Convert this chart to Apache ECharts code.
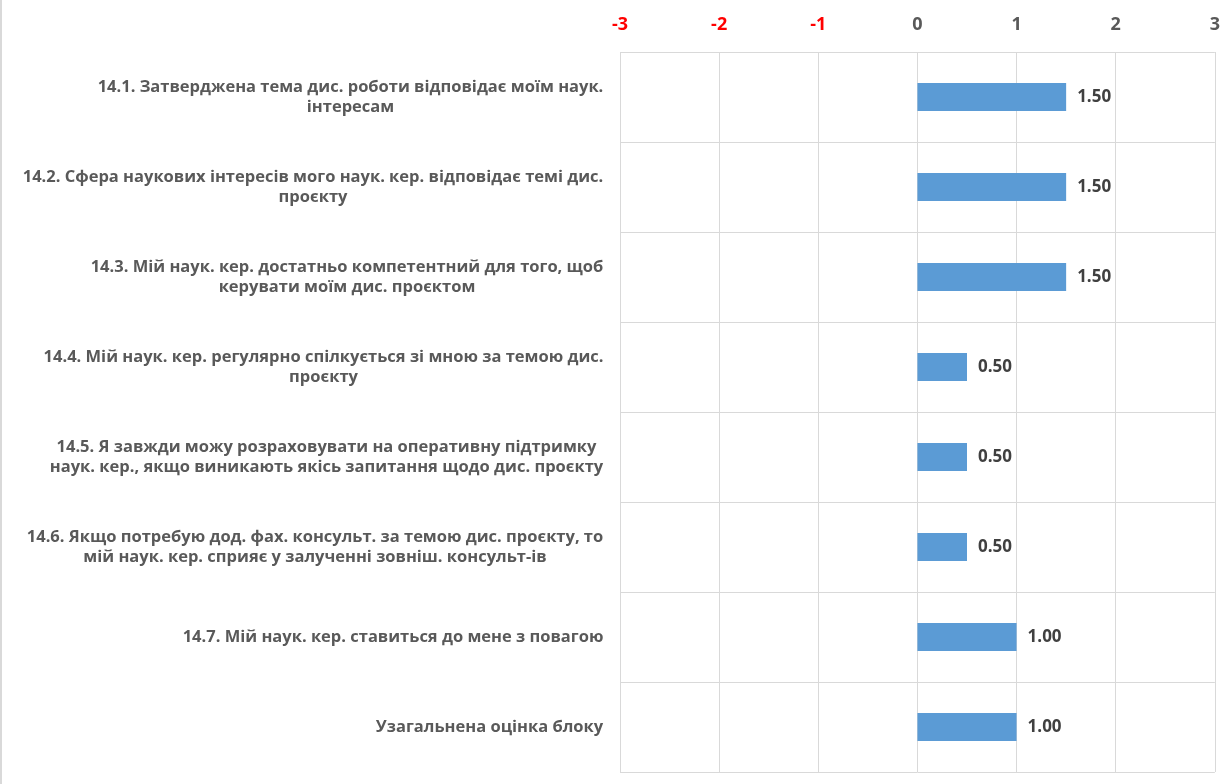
<!DOCTYPE html>
<html>
<head>
<meta charset="utf-8">
<script src="https://cdn.jsdelivr.net/npm/echarts@6/dist/echarts.min.js"></script>
<style>
	html, body { margin: 0; padding: 0; background: #fff; }
	#chart { width: 1223px; height: 784px; box-sizing: border-box; border-left: 2px solid #d9d9d9; }
</style>
</head>
<body>
<div id="chart"></div>
<script>
;(function(){
	'use strict';

	// категорії (з перенесенням рядків, як у вихідній діаграмі)
	var categories = [
		'14.1. Затверджена тема дис. роботи відповідає моїм наук.\nінтересам',
		'14.2. Сфера наукових інтересів мого наук. кер. відповідає темі дис.\nпроєкту',
		'14.3. Мій наук. кер. достатньо компетентний для того, щоб\nкерувати моїм дис. проєктом',
		'14.4. Мій наук. кер. регулярно спілкується зі мною за темою дис.\nпроєкту',
		'14.5. Я завжди можу розраховувати на оперативну підтримку\nнаук. кер., якщо виникають якісь запитання щодо дис. проєкту',
		'14.6. Якщо потребую дод. фах. консульт. за темою дис. проєкту, то\nмій наук. кер. сприяє у залученні зовніш. консульт-ів',
		'14.7. Мій наук. кер. ставиться до мене з повагою',
		'Узагальнена оцінка блоку'
	];
	var values = [1.5, 1.5, 1.5, 0.5, 0.5, 0.5, 1.0, 1.0];

	var fontName = 'Open Sans';
	var catSize = 16.5;
	var labelColor = '#595959';

	// ширина кожного підпису, щоб рядки центрувались один під одним
	var ctx = document.createElement('canvas').getContext('2d');
	ctx.font = 'bold ' + catSize + 'px "' + fontName + '"';
	var rich = {};
	categories.forEach(function(c, i){
		var w = 0;
		c.split('\n').forEach(function(l){ w = Math.max(w, ctx.measureText(l).width); });
		rich['c' + i] = {
			width: Math.ceil(w) + 1,
			align: 'center',
			fontFamily: fontName,
			fontWeight: 'bold',
			fontSize: catSize,
			lineHeight: 20,
			color: labelColor
		};
	});

	var option = {
		animation: false,
		grid: { left: 618, right: 5, top: 52, bottom: 12 },
		xAxis: {
			type: 'value',
			position: 'top',
			min: -3,
			max: 3,
			interval: 1,
			axisLine: { show: false },
			axisTick: { show: false },
			splitLine: { lineStyle: { color: '#d9d9d9', width: 1 } },
			axisLabel: {
				margin: 18,
				fontFamily: fontName,
				fontWeight: 'bold',
				fontSize: 18,
				color: function(v){ return v < 0 ? '#ff0000' : labelColor; }
			}
		},
		yAxis: {
			type: 'category',
			inverse: true,
			data: categories,
			axisLine: { show: false },
			axisTick: { show: false },
			splitLine: { show: true, lineStyle: { color: '#d9d9d9', width: 1 } },
			axisLabel: {
				margin: 16,
				formatter: function(v, i){
					return v.split('\n').map(function(l){ return '{c' + i + '|' + l + '}'; }).join('\n');
				},
				rich: rich
			}
		},
		series: [{
			type: 'bar',
			data: values,
			barWidth: 28,
			itemStyle: { color: '#5b9bd5' },
			label: {
				show: true,
				position: 'right',
				distance: 11,
				fontFamily: fontName,
				fontWeight: 'bold',
				fontSize: 17,
				color: '#404040',
				formatter: function(p){ return p.value.toFixed(2); }
			}
		}]
	};

	var myChart = echarts.init(document.getElementById('chart'));
	myChart.setOption(option);
})();
</script>
</body>
</html>
